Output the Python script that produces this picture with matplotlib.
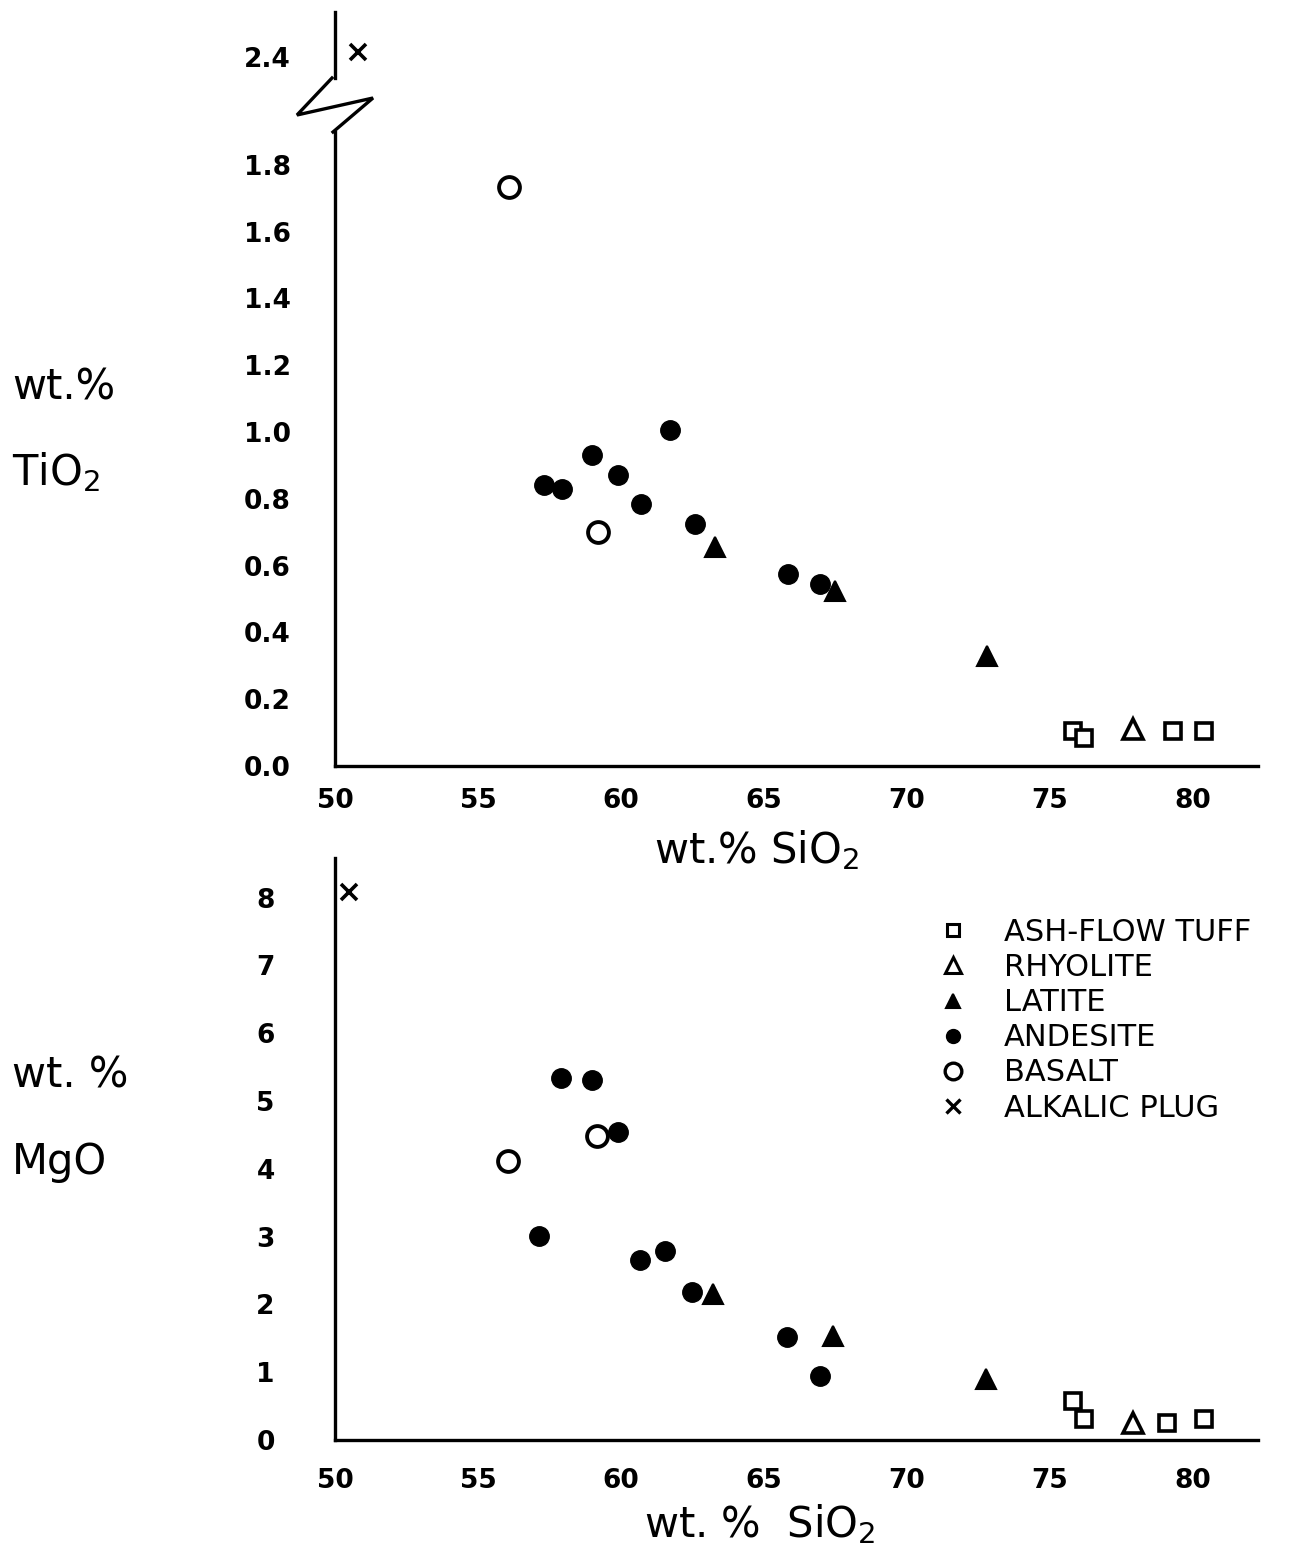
import numpy as np
import matplotlib
matplotlib.use('Agg')
import matplotlib.pyplot as plt
from matplotlib.lines import Line2D

plt.rcParams['font.family'] = ['DejaVu Sans']

# --- datos ---
# TiO2 vs SiO2
tuff_si_ti = [75.8, 76.2, 79.3, 80.4]
tuff_ti = [0.105, 0.085, 0.105, 0.105]
rhy_si_ti = [77.9]
rhy_ti = [0.11]
lat_si_ti = [63.3, 67.5, 72.8]
lat_ti = [0.655, 0.525, 0.33]
and_si_ti = [57.3, 57.95, 59.0, 59.9, 60.7, 61.7, 62.6, 65.85, 66.95]
and_ti = [0.84, 0.83, 0.93, 0.87, 0.785, 1.005, 0.725, 0.575, 0.545]
bas_si_ti = [56.1, 59.2]
bas_ti = [1.735, 0.70]
alk_si_ti = [50.8]
alk_ti = [2.415]

# MgO vs SiO2
tuff_si_mg = [75.8, 76.2, 79.1, 80.4]
tuff_mg = [0.58, 0.31, 0.25, 0.31]
rhy_si_mg = [77.9]
rhy_mg = [0.25]
lat_si_mg = [63.2, 67.4, 72.75]
lat_mg = [2.15, 1.54, 0.90]
and_si_mg = [57.9, 59.0, 59.9, 57.15, 60.65, 61.55, 62.5, 65.8, 66.95]
and_mg = [5.34, 5.31, 4.55, 3.01, 2.66, 2.79, 2.19, 1.52, 0.94]
bas_si_mg = [56.05, 59.15]
bas_mg = [4.12, 4.48]
alk_si_mg = [50.5]
alk_mg = [8.08]

x_ticks = [50, 55, 60, 65, 70, 75, 80]
ti_ticks = [0.0, 0.2, 0.4, 0.6, 0.8, 1.0, 1.2, 1.4, 1.6, 1.8]
ti_tick_labels = ['0.0', '0.2', '0.4', '0.6', '0.8', '1.0', '1.2', '1.4', '1.6', '1.8']
mg_ticks = [0, 1, 2, 3, 4, 5, 6, 7, 8]
legend_labels = ['ASH-FLOW TUFF', 'RHYOLITE', 'LATITE', 'ANDESITE', 'BASALT', 'ALKALIC PLUG']

# estilos de simbolos
estilos = {
    'tuff': dict(marker='s', ms=12, mfc='white', mec='black', mew=2.6, ls='none'),
    'rhy': dict(marker='^', ms=14, mfc='white', mec='black', mew=2.6, ls='none'),
    'lat': dict(marker='^', ms=14, mfc='black', mec='black', mew=1.5, ls='none'),
    'and': dict(marker='o', ms=14, mfc='black', mec='black', mew=1, ls='none'),
    'bas': dict(marker='o', ms=15, mfc='white', mec='black', mew=2.8, ls='none'),
    'alk': dict(marker='x', ms=12, mec='black', mew=2.6, ls='none'),
}

W, H = 1300, 1552
fig = plt.figure(figsize=(13, 15.52), dpi=100)

def fx(px):
    return px / W

def fy(py):
    return 1 - py / H

x0, x1 = 335, 1258
xlim = (50, 50 + (x1 - x0) / 28.6)
lw_eje = 2.4
fs_tick = 19
fs_label = 30

def estilo_ejes(ax, pad_y):
    ax.patch.set_visible(False)
    for s in ['top', 'right']:
        ax.spines[s].set_visible(False)
    for s in ['left', 'bottom']:
        ax.spines[s].set_linewidth(lw_eje)
    ax.tick_params(length=0, labelsize=fs_tick, pad=pad_y)
    for t in ax.get_xticklabels() + ax.get_yticklabels():
        t.set_fontweight('bold')

# ---- panel superior (TiO2), eje partido ----
ppu = 334.0
y_cero, y_top = 766, 132
ax1 = fig.add_axes([fx(x0), fy(y_cero), fx(x1) - fx(x0), fy(y_top) - fy(y_cero)])
ax1.set_xlim(xlim)
ax1.set_ylim(0, (y_cero - y_top) / ppu)
ax1.plot(tuff_si_ti, tuff_ti, **estilos['tuff'], clip_on=False)
ax1.plot(rhy_si_ti, rhy_ti, **estilos['rhy'], clip_on=False)
ax1.plot(lat_si_ti, lat_ti, **estilos['lat'], clip_on=False)
ax1.plot(and_si_ti, and_ti, **estilos['and'], clip_on=False)
ax1.plot(bas_si_ti, bas_ti, **estilos['bas'], clip_on=False)
ax1.set_xticks(x_ticks)
ax1.set_yticks(ti_ticks)
ax1.set_yticklabels(ti_tick_labels)
estilo_ejes(ax1, 32)
ax1.tick_params(axis='x', pad=16)
ax1.set_xlabel('wt.% SiO$_2$', fontsize=fs_label)
ax1.xaxis.label.set_va('center')
ax1.xaxis.set_label_coords((757 - x0) / (x1 - x0), (y_cero - 850) / (y_cero - y_top))

# parte alta del eje (2.4)
yb, yt = 78, 12
ax1b = fig.add_axes([fx(x0), fy(yb), fx(x1) - fx(x0), fy(yt) - fy(yb)])
ax1b.set_xlim(xlim)
ax1b.set_ylim(2.4 - (yb - 57) / ppu, 2.4 + (57 - yt) / ppu)
ax1b.plot(alk_si_ti, alk_ti, **estilos['alk'], clip_on=False)
ax1b.patch.set_visible(False)
for s in ['top', 'right', 'bottom']:
    ax1b.spines[s].set_visible(False)
ax1b.spines['left'].set_linewidth(lw_eje)
ax1b.set_xticks([])
ax1b.set_yticks([2.4])
ax1b.set_yticklabels(['2.4'])
ax1b.tick_params(length=0, labelsize=fs_tick, pad=32)
for t in ax1b.get_yticklabels():
    t.set_fontweight('bold')

# zigzag del corte
zz_x = [332, 297, 373, 333]
zz_y = [78, 115, 98, 132]
fig.add_artist(Line2D([fx(v) for v in zz_x], [fy(v) for v in zz_y],
                      color='black', lw=lw_eje, solid_joinstyle='miter'))

fig.text(fx(12), fy(388), 'wt.%', fontsize=fs_label, va='center', ha='left')
fig.text(fx(12), fy(472), 'TiO$_2$', fontsize=fs_label, va='center', ha='left')

# ---- panel inferior (MgO) ----
ppu2 = 67.8
y_cero2, y_top2 = 1440, 858
ax2 = fig.add_axes([fx(x0), fy(y_cero2), fx(x1) - fx(x0), fy(y_top2) - fy(y_cero2)])
ax2.set_xlim(xlim)
ax2.set_ylim(0, (y_cero2 - y_top2) / ppu2)
ax2.plot(tuff_si_mg, tuff_mg, **estilos['tuff'], clip_on=False)
ax2.plot(rhy_si_mg, rhy_mg, **estilos['rhy'], clip_on=False)
ax2.plot(lat_si_mg, lat_mg, **estilos['lat'], clip_on=False)
ax2.plot(and_si_mg, and_mg, **estilos['and'], clip_on=False)
ax2.plot(bas_si_mg, bas_mg, **estilos['bas'], clip_on=False)
ax2.plot(alk_si_mg, alk_mg, **estilos['alk'], clip_on=False)
ax2.set_xticks(x_ticks)
ax2.set_yticks(mg_ticks)
estilo_ejes(ax2, 50)
ax2.tick_params(axis='y', pad=50)
ax2.tick_params(axis='x', pad=20)
for t in ax2.get_yticklabels():
    t.set_ha('center')
ax2.set_xlabel('wt. %  SiO$_2$', fontsize=fs_label)
ax2.xaxis.label.set_va('center')
ax2.xaxis.set_label_coords((760 - x0) / (x1 - x0), (y_cero2 - 1524) / (y_cero2 - y_top2))

fig.text(fx(12), fy(1075), 'wt. %', fontsize=fs_label, va='center', ha='left')
fig.text(fx(12), fy(1162), 'MgO', fontsize=fs_label, va='center', ha='left')

# leyenda
handles = [
    Line2D([], [], **dict(estilos['tuff'], ms=9, mew=2.2)),
    Line2D([], [], **dict(estilos['rhy'], ms=11, mew=2.2)),
    Line2D([], [], **dict(estilos['lat'], ms=10)),
    Line2D([], [], **dict(estilos['and'], ms=10)),
    Line2D([], [], **dict(estilos['bas'], ms=12, mew=2.4)),
    Line2D([], [], **dict(estilos['alk'], ms=10, mew=2.4)),
]
ax2.legend(handles, legend_labels, loc='upper left',
           bbox_to_anchor=((938 - x0) / (x1 - x0), (y_cero2 - 918) / (y_cero2 - y_top2)),
           frameon=False, fontsize=22, handlelength=1.0, handletextpad=1.15,
           labelspacing=0.2, borderpad=0, borderaxespad=0)

fig.savefig('out.png', dpi=100, facecolor='white')
